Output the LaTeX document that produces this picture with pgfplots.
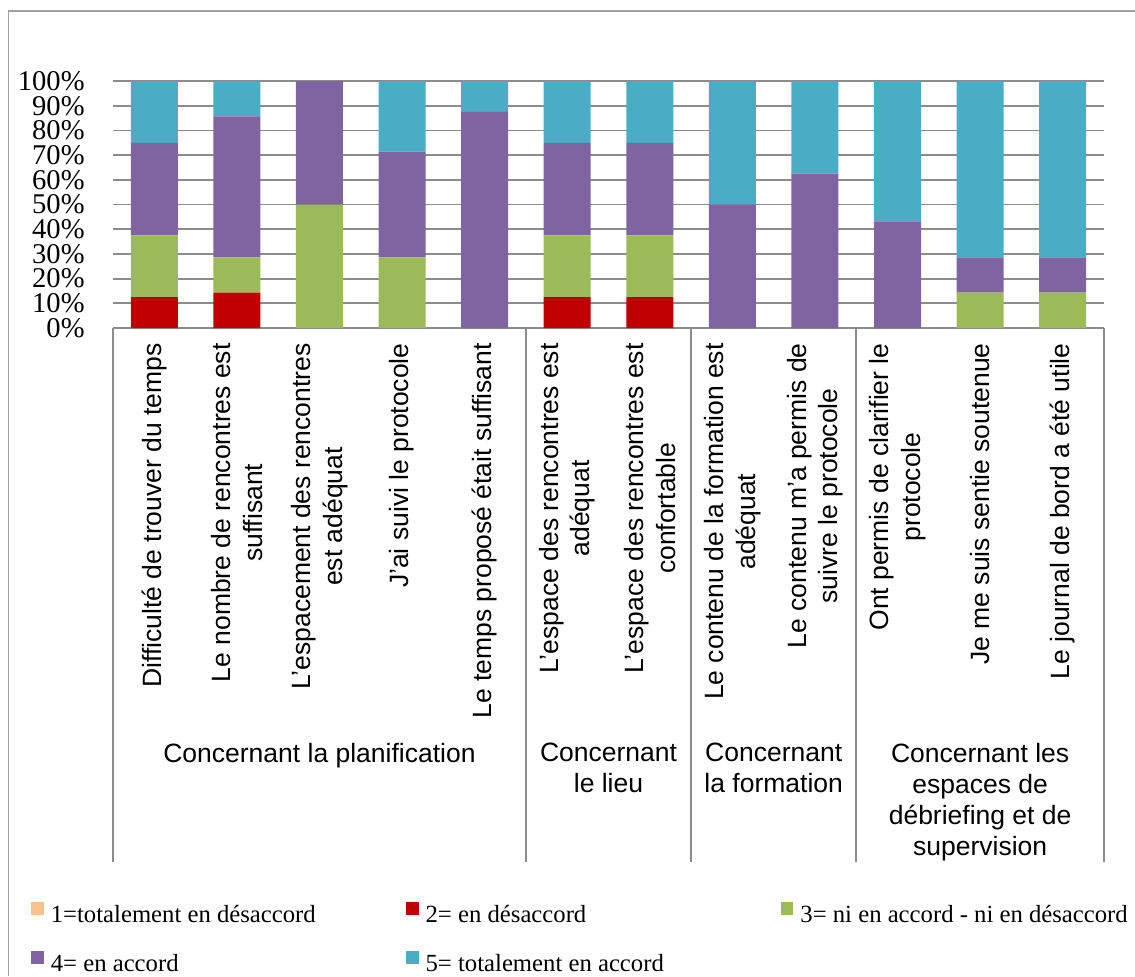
\documentclass[border=0pt]{standalone}
\usepackage{fontspec}
\setmainfont{Liberation Serif}
\newfontfamily\arialfont{Liberation Sans}
\usepackage{pgfplots}
\pgfplotsset{compat=1.18}
\definecolor{c1}{HTML}{FAC090}
\definecolor{c2}{HTML}{C00000}
\definecolor{c3}{HTML}{9BBB59}
\definecolor{c4}{HTML}{8064A2}
\definecolor{c5}{HTML}{4BACC6}
\definecolor{gridc}{HTML}{8C8C8C}
\definecolor{framec}{HTML}{A0A0A0}
\begin{document}
\begin{tikzpicture}
\useasboundingbox (0,0) rectangle (567.5pt,488pt);
\draw[color=framec, line width=0.9pt] (4.2pt,0) -- (4.2pt,482.5pt) -- (567.5pt,482.5pt);
\begin{axis}[
  at={(56.5pt,324pt)}, anchor=south west,
  scale only axis, width=495.5pt, height=123.5pt,
  ybar stacked, bar width=23.5pt,
  xmin=-0.5, xmax=11.5, ymin=0, ymax=100,
  enlargelimits=false,
  xtick={0,...,11},
  xticklabels={
    Difficulté de trouver du temps,
    {Le nombre de rencontres est\\suffisant},
    {L’espacement des rencontres\\est adéquat},
    J’ai suivi le protocole,
    Le temps proposé était suffisant,
    {L’espace des rencontres est\\adéquat},
    {L’espace des rencontres est\\confortable},
    {Le contenu de la formation est\\adéquat},
    {Le contenu m’a permis de\\suivre le protocole},
    {Ont permis de clarifier le\\protocole},
    Je me suis sentie soutenue,
    Le journal de bord a été utile},
  ytick={0,10,...,100},
  yticklabels={0\%,10\%,20\%,30\%,40\%,50\%,60\%,70\%,80\%,90\%,100\%},
  major tick length=0pt,
  axis line style={draw=none},
  ymajorgrids, grid style={color=gridc, line width=0.9pt},
  xticklabel style={rotate=90, anchor=east, align=center, inner sep=0pt,
    font=\arialfont\fontsize{13.25}{15.8}\selectfont},
  xticklabel shift=7.5pt,
  yticklabel style={anchor=east, inner sep=0pt, font=\fontsize{14.3}{14.3}\selectfont},
  yticklabel shift=14pt,
  clip=false,
  legend columns=3,
  legend cell align=left,
  legend style={at={(axis description cs:-0.0827,-2.324)}, anchor=north west,
    draw=none, fill=none, inner sep=0pt, outer sep=0pt,
    font=\fontsize{12.35}{12.35}\selectfont,
    nodes={inner sep=0pt},
    row sep=13pt,
    /tikz/every odd column/.append style={column sep=3.5pt},
    /tikz/every even column/.append style={column sep=0pt}},
  legend image code/.code={\fill[#1,draw=none] (0pt,0.2pt) rectangle (6.4pt,6.6pt);},
]
\addplot[fill=c1, draw=none] coordinates {(0,0) (1,0) (2,0) (3,0) (4,0) (5,0) (6,0) (7,0) (8,0) (9,0) (10,0) (11,0)};
\addplot[fill=c2, draw=none] coordinates {(0,12.5) (1,14.29) (2,0) (3,0) (4,0) (5,12.5) (6,12.5) (7,0) (8,0) (9,0) (10,0) (11,0)};
\addplot[fill=c3, draw=none] coordinates {(0,25) (1,14.29) (2,50) (3,28.57) (4,0) (5,25) (6,25) (7,0) (8,0) (9,0) (10,14.29) (11,14.29)};
\addplot[fill=c4, draw=none] coordinates {(0,37.5) (1,57.14) (2,50) (3,42.86) (4,87.5) (5,37.5) (6,37.5) (7,50) (8,62.5) (9,42.86) (10,14.29) (11,14.29)};
\addplot[fill=c5, draw=none] coordinates {(0,25) (1,14.29) (2,0) (3,28.57) (4,12.5) (5,25) (6,25) (7,50) (8,37.5) (9,57.14) (10,71.43) (11,71.43)};
\addlegendentry{\makebox[177.5pt][l]{1=totalement en désaccord}}
\addlegendentry{\makebox[177.5pt][l]{2= en désaccord}}
\addlegendentry{3= ni en accord - ni en désaccord}
\addlegendentry{\makebox[177.5pt][l]{4= en accord}}
\addlegendentry{\makebox[177.5pt][l]{5= totalement en accord}}
\draw[color=gridc, line width=0.9pt] (axis cs:-0.5,0) -- ++(0pt,-267pt);
\draw[color=gridc, line width=0.9pt] (axis cs:4.5,0) -- ++(0pt,-267pt);
\draw[color=gridc, line width=0.9pt] (axis cs:6.5,0) -- ++(0pt,-267pt);
\draw[color=gridc, line width=0.9pt] (axis cs:8.5,0) -- ++(0pt,-267pt);
\draw[color=gridc, line width=0.9pt] (axis cs:11.5,0) -- ++(0pt,-267pt);
\tikzset{grp/.style={anchor=north, align=center, inner sep=0pt,
  font=\arialfont\fontsize{13.25}{15.5}\selectfont}}
\node[grp] at ([yshift=-207.5pt]axis cs:2,0) {Concernant la planification};
\node[grp] at ([yshift=-207.5pt]axis cs:5.5,0) {Concernant\\le lieu};
\node[grp] at ([yshift=-207.5pt]axis cs:7.5,0) {Concernant\\la formation};
\node[grp] at ([yshift=-207.5pt]axis cs:10,0) {Concernant les\\espaces de\\débriefing et de\\supervision};
\end{axis}
\end{tikzpicture}
\end{document}
